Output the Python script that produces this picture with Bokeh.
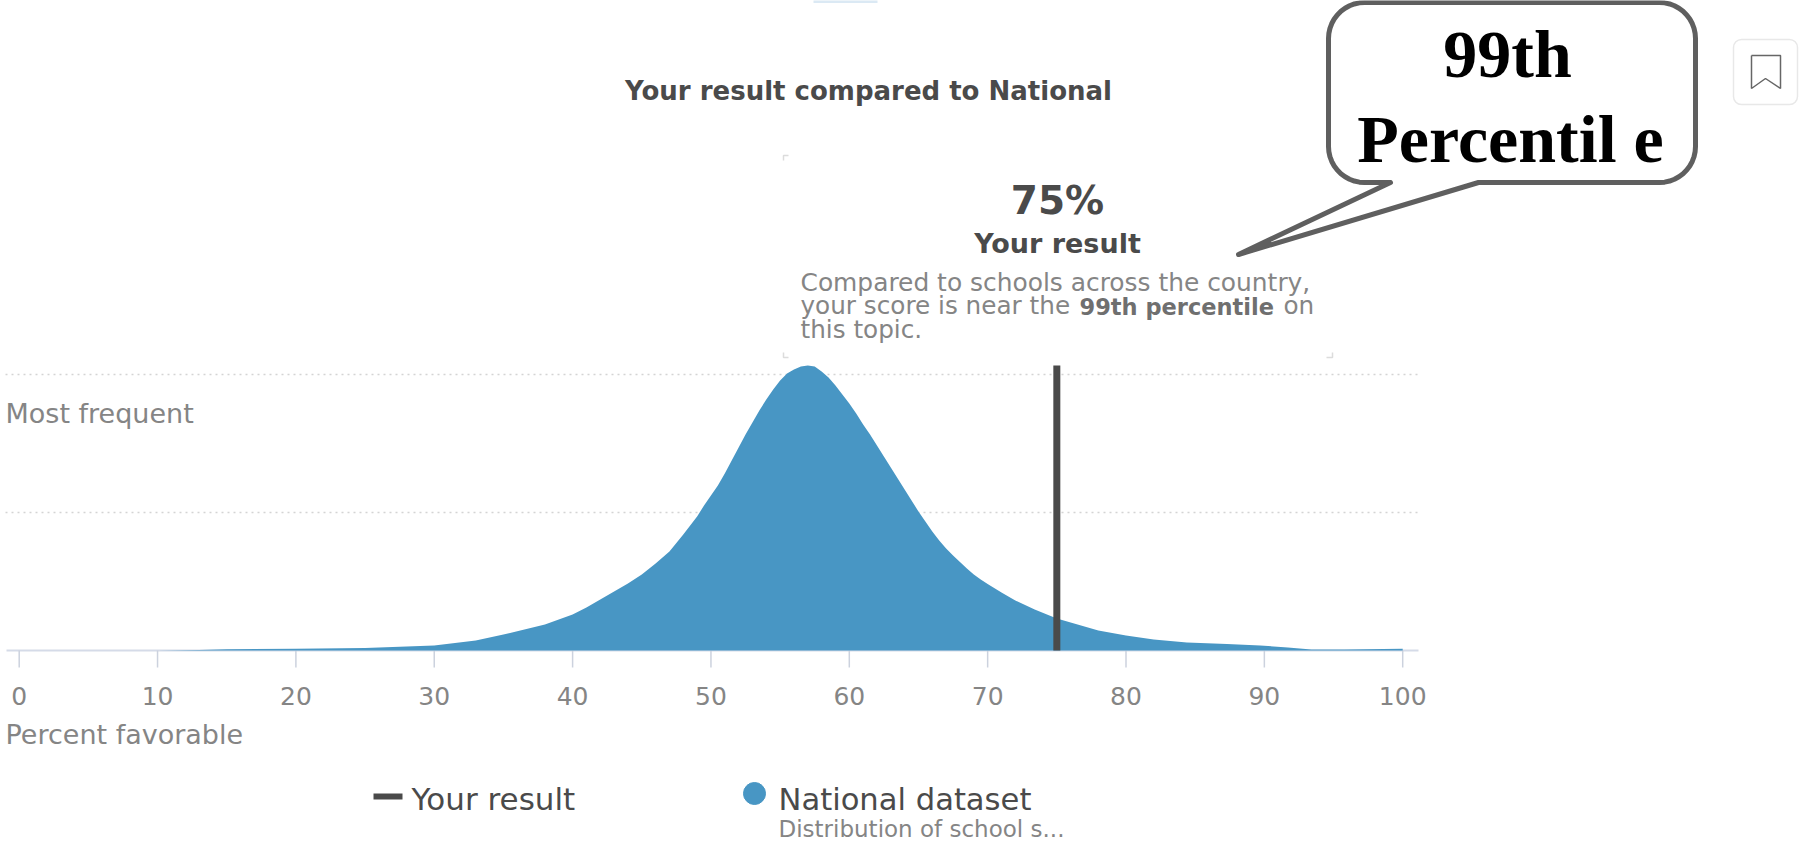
from bokeh.plotting import figure
from bokeh.embed import file_html
from bokeh.resources import INLINE
from bokeh.models import Range1d, ColumnDataSource, Label
import numpy as np

# --- data ---
pct = [0, 10, 13, 15, 20, 25, 30, 33, 35, 38, 40, 41, 42, 43, 44, 45, 46, 47, 48, 49, 49.5, 50, 50.5, 51, 51.5,
       52, 52.5, 53, 53.5, 54, 54.5, 55, 55.5, 56, 56.5, 57, 57.5, 58, 58.5, 59, 59.5, 60, 60.5, 61, 61.5, 62,
       62.5, 63, 63.5, 64, 64.5, 65, 65.5, 66, 66.5, 67, 67.5, 68, 68.5, 69, 69.5, 70, 71, 72, 73.4, 75, 76.5, 78, 80, 82,
       84.4, 87.3, 89.7, 91.7, 93.4, 95.8, 100]
freq = [0, 0, 0.4, 1.2, 1.8, 2.5, 5, 10, 16, 26, 36, 43, 51, 59, 67, 76, 87, 99, 116, 134, 145, 155, 165, 177, 190,
        203, 216, 228, 240, 251, 261, 270, 277, 281, 284, 285, 284, 279, 273, 265, 256, 247, 237, 226, 216, 205,
        194, 183, 172, 161, 150, 139, 129, 119, 110, 102, 95, 88.5, 82, 76, 71, 66.5, 58, 50, 41, 32, 26, 20, 15, 11,
        8, 6.5, 5, 3, 1, 1, 1.7]
ticks = [0, 10, 20, 30, 40, 50, 60, 70, 80, 90, 100]
your_result = 75
grid_levels = [138, 276]

W, H = 1803, 842
PX_PER_UNIT = 13.835
X0 = 18.7      # tick 0 in px
BASE = 650     # baseline in px

p = figure(width=W, height=H, output_backend="svg", toolbar_location=None,
           x_range=Range1d(-X0 / PX_PER_UNIT, (W - X0) / PX_PER_UNIT),
           y_range=Range1d(BASE - H, BASE),
           min_border=0, min_border_left=0, min_border_right=0, min_border_top=0, min_border_bottom=0)
p.xaxis.visible = False
p.yaxis.visible = False
p.xgrid.visible = False
p.ygrid.visible = False
p.outline_line_color = None

def X(px):
    return (px - X0) / PX_PER_UNIT
def Y(py):
    return BASE - py

GREY = "#858585"
DARK = "#4a4a4a"
BLUE = "#4896c4"

def txt(px, py, s, size, color=GREY, bold=False, align="left", font="DejaVu Sans"):
    p.add_layout(Label(x=X(px), y=Y(py), text=s, text_font_size=f"{size}px", text_color=color,
                       text_font=font, text_font_style="bold" if bold else "normal",
                       text_align=align, text_baseline="middle"))

# gridlines
for g in grid_levels:
    p.line([X(5), X(1420)], [g, g], line_color="#d4d4d4", line_width=1.5, line_dash="2 4")

# baseline and ticks
p.line([X(6), X(1418)], [0, 0], line_color="#d5dbe8", line_width=2)
p.segment(ticks, [0] * len(ticks), ticks, [-17] * len(ticks), line_color="#ccd2de", line_width=1.5)

# density
src = ColumnDataSource(dict(x=pct, y=freq, y0=[0] * len(pct)))
p.varea(x="x", y1="y0", y2="y", source=src, fill_color=BLUE)

# result marker
p.line([your_result, your_result], [0, 285], line_color=DARK, line_width=7)

# tick labels
for t in ticks:
    txt(X0 + t * PX_PER_UNIT, 695, str(t), 25, GREY, align="center")

txt(5, 413, "Most frequent", 27, GREY)
txt(5, 734, "Percent favorable", 27, GREY)

# header & tooltip
txt(868, 90, "Your result compared to National", 26, DARK, bold=True, align="center")
txt(1057, 200, "75%", 39, DARK, bold=True, align="center")
txt(1057, 243, "Your result", 27, DARK, bold=True, align="center")
txt(800, 282, "Compared to schools across the country,", 24.9, GREY)
txt(800, 305, "your score is near the", 24.7, GREY)
txt(1079, 306, "99th percentile", 22.5, "#6f6f6f", bold=True)
txt(1283, 305, "on", 24.7, GREY)
txt(800, 329, "this topic.", 24.7, GREY)

# tooltip corner marks and clipped element at the top
for xs, ys in [([783, 783, 788], [160, 155, 155]), ([783, 783, 788], [352, 357, 357]), ([1326, 1332, 1332], [357, 357, 352])]:
    p.line([X(v) for v in xs], [Y(v) for v in ys], line_color="#dcdcdc", line_width=1.5)
p.line([X(813), X(877)], [Y(1), Y(1)], line_color="#dbe9f4", line_width=3)

# legend
p.line([X(373), X(402)], [Y(796), Y(796)], line_color=DARK, line_width=6)
txt(411, 798, "Your result", 31, DARK)
p.scatter([X(754)], [Y(793)], size=22, color=BLUE, marker="circle")
txt(778, 799, "National dataset", 30.6, DARK)
txt(778, 828, "Distribution of school s...", 23, GREY)

# speech bubble
L, R, T, B, r = 1328, 1695, 2, 182, 36
arc = np.linspace(0, np.pi / 2, 12)
bx, by = [], []
for cx, cy, a0 in [(R - r, T + r, 0), (R - r, B - r, np.pi / 2), (L + r, B - r, np.pi), (L + r, T + r, 1.5 * np.pi)]:
    bx += list(cx + r * np.cos(a0 + arc - np.pi / 2))
    by += list(cy + r * np.sin(a0 + arc - np.pi / 2))
n = 24
bx = bx[:n] + [1478, 1238, 1390] + bx[n:] + [bx[0]]
by = by[:n] + [B, 254, B] + by[n:] + [by[0]]
p.patch([X(v) for v in bx], [Y(v) for v in by], fill_color="white", line_color="#5f5f5f", line_width=5, line_join="round")

txt(1507, 53, "99th", 68, "#000000", bold=True, align="center", font="Liberation Serif")
txt(1510, 138, "Percentil e", 68, "#000000", bold=True, align="center", font="Liberation Serif")

# bookmark button
p.quad(left=X(1733), right=X(1797), top=Y(39), bottom=Y(104), fill_color="white", line_color="#e8e8e8", line_width=1.5, border_radius=8)
p.line([X(v) for v in [1751, 1751, 1765, 1780, 1780, 1751]], [Y(v) for v in [55, 88, 78, 88, 55, 55]], line_color="#666666", line_width=1.5)

open("out.html", "w").write(file_html(p, INLINE))
